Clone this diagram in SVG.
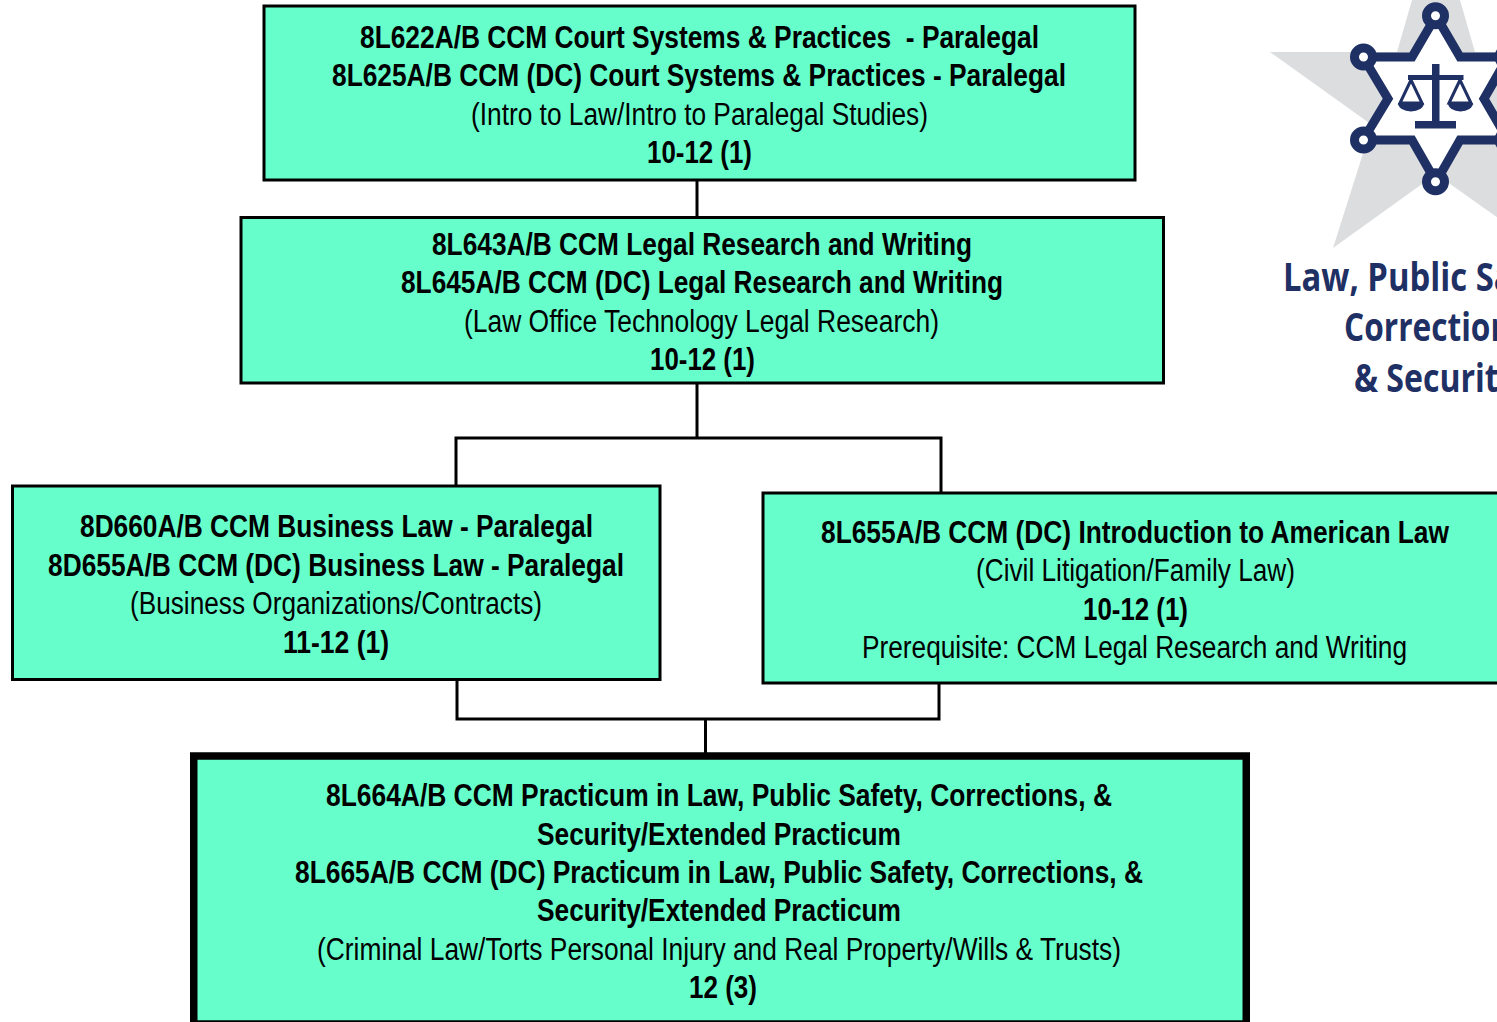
<svg xmlns="http://www.w3.org/2000/svg" width="1497" height="1022" viewBox="0 0 1497 1022">
<style>
.box{fill:#66FFCC;stroke:#000;stroke-width:3}
.thick{stroke-width:7.5}
.c{fill:none;stroke:#000;stroke-width:3}
text{font-family:"Liberation Sans",Arial,sans-serif;font-size:31px;fill:#000;white-space:pre}
.b{font-weight:700}
.logo{font-family:"Open Sans",sans-serif;font-weight:700;font-size:39px;fill:#1F3064}
.n{fill:none;stroke:#1F3064}
.f{fill:#1F3064}
</style>
<g id="logo">
<polygon points="1436,-83 1475,52 1602,52 1500,125 1539,247 1436,174 1333,248 1372,125 1270,52 1397,52" fill="#DCDDDE"/>
<path d="M1436,16L1412,57H1363L1388,98.700L1363,140H1412L1436,182L1460,140H1508L1484,98.700L1508,57H1460Z" fill="#fff" stroke="#1F3064" stroke-width="9"/>
<g fill="#fff" stroke="#1F3064" stroke-width="9">
<circle cx="1435.500" cy="15.700" r="9"/><circle cx="1435.500" cy="181.700" r="9"/>
<circle cx="1363.500" cy="57" r="9"/><circle cx="1363.500" cy="140" r="9"/>
<circle cx="1508" cy="57" r="9"/><circle cx="1508" cy="140" r="9"/>
</g>
<rect class="f" x="1432" y="64" width="7.500" height="60"/>
<rect class="f" x="1408" y="75" width="55.500" height="5"/>
<rect class="f" x="1415" y="121" width="41" height="7.500"/>
<path class="n" stroke-width="3" d="M1411,80L1400,103H1422ZM1460,80L1449,103H1471Z"/>
<path class="f" d="M1398,103H1424A13,8.500 0 0 1 1398,103ZM1448,103H1473A12.500,8.500 0 0 1 1448,103Z"/>
<text class="logo" x="1283" y="291" textLength="305" lengthAdjust="spacingAndGlyphs">Law, Public Safety,</text>
<text class="logo" x="1344" y="341" textLength="183" lengthAdjust="spacingAndGlyphs">Corrections</text>
<text class="logo" x="1354" y="392" textLength="163" lengthAdjust="spacingAndGlyphs">&amp; Security</text>
</g>
<g id="connectors">
<path class="c" d="M697,180V217M697,383V438M456,486V438H941V493M457,679V719H939V683M705.500,719V756"/>
</g>
<g id="node1">
<rect class="box" x="264" y="6" width="871" height="174"/>
<text class="b" x="360" y="47.500" textLength="679" lengthAdjust="spacingAndGlyphs">8L622A/B CCM Court Systems &amp; Practices  - Paralegal</text>
<text class="b" x="332" y="85.500" textLength="734" lengthAdjust="spacingAndGlyphs">8L625A/B CCM (DC) Court Systems &amp; Practices - Paralegal</text>
<text x="471" y="124.500" textLength="457" lengthAdjust="spacingAndGlyphs">(Intro to Law/Intro to Paralegal Studies)</text>
<text class="b" x="647" y="162.500" textLength="105" lengthAdjust="spacingAndGlyphs">10-12 (1)</text>
</g>
<g id="node2">
<rect class="box" x="241" y="217.500" width="922.500" height="165.500"/>
<text class="b" x="432" y="254.500" textLength="540" lengthAdjust="spacingAndGlyphs">8L643A/B CCM Legal Research and Writing</text>
<text class="b" x="401" y="292.500" textLength="602" lengthAdjust="spacingAndGlyphs">8L645A/B CCM (DC) Legal Research and Writing</text>
<text x="464" y="331.500" textLength="475" lengthAdjust="spacingAndGlyphs">(Law Office Technology Legal Research)</text>
<text class="b" x="650" y="369.500" textLength="105" lengthAdjust="spacingAndGlyphs">10-12 (1)</text>
</g>
<g id="node3">
<rect class="box" x="12.500" y="486" width="647.500" height="193.500"/>
<text class="b" x="80" y="536.500" textLength="513" lengthAdjust="spacingAndGlyphs">8D660A/B CCM Business Law - Paralegal</text>
<text class="b" x="48" y="575.500" textLength="576" lengthAdjust="spacingAndGlyphs">8D655A/B CCM (DC) Business Law - Paralegal</text>
<text x="130" y="613.500" textLength="412" lengthAdjust="spacingAndGlyphs">(Business Organizations/Contracts)</text>
<text class="b" x="283" y="652.500" textLength="106" lengthAdjust="spacingAndGlyphs">11-12 (1)</text>
</g>
<g id="node4">
<rect class="box" x="763" y="493" width="740" height="190"/>
<text class="b" x="821" y="542.500" textLength="628" lengthAdjust="spacingAndGlyphs">8L655A/B CCM (DC) Introduction to American Law</text>
<text x="976" y="580.500" textLength="319" lengthAdjust="spacingAndGlyphs">(Civil Litigation/Family Law)</text>
<text class="b" x="1083" y="619.500" textLength="105" lengthAdjust="spacingAndGlyphs">10-12 (1)</text>
<text x="862" y="657.500" textLength="545" lengthAdjust="spacingAndGlyphs">Prerequisite: CCM Legal Research and Writing</text>
</g>
<g id="node5">
<rect class="box thick" x="193.750" y="756" width="1052.500" height="268"/>
<text class="b" x="326" y="805.500" textLength="786" lengthAdjust="spacingAndGlyphs">8L664A/B CCM Practicum in Law, Public Safety, Corrections, &amp;</text>
<text class="b" x="537" y="844.500" textLength="364" lengthAdjust="spacingAndGlyphs">Security/Extended Practicum</text>
<text class="b" x="295" y="882.500" textLength="848" lengthAdjust="spacingAndGlyphs">8L665A/B CCM (DC) Practicum in Law, Public Safety, Corrections, &amp;</text>
<text class="b" x="537" y="920.500" textLength="364" lengthAdjust="spacingAndGlyphs">Security/Extended Practicum</text>
<text x="317" y="959.500" textLength="804" lengthAdjust="spacingAndGlyphs">(Criminal Law/Torts Personal Injury and Real Property/Wills &amp; Trusts)</text>
<text class="b" x="689" y="997.500" textLength="68" lengthAdjust="spacingAndGlyphs">12 (3)</text>
</g>
</svg>
